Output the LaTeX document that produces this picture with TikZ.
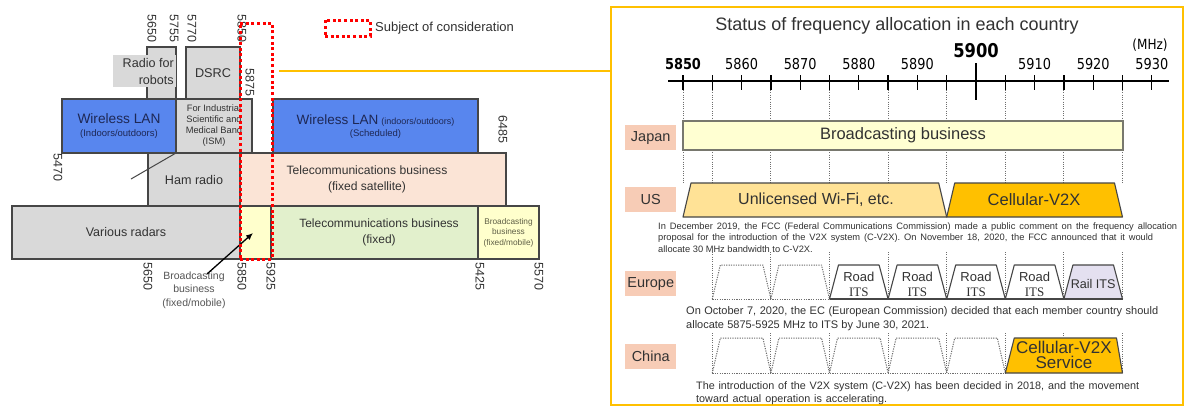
\documentclass[tikz,border=0pt]{standalone}
\usepackage{fontspec}
\setmainfont{Liberation Sans}
\newfontfamily\axisfont[FakeStretch=0.86]{DejaVu Sans}
\newfontfamily\itsserif{Liberation Serif}
\usetikzlibrary{arrows.meta}
\definecolor{edge}{RGB}{70,70,70}
\definecolor{txt}{RGB}{50,50,50}
\definecolor{navytxt}{RGB}{30,40,85}
\definecolor{wlan}{RGB}{88,134,238}
\definecolor{greybox}{RGB}{217,217,217}
\definecolor{peach}{RGB}{251,228,214}
\definecolor{lgreen}{RGB}{226,240,204}
\definecolor{lyellow}{RGB}{255,255,204}
\definecolor{gold}{RGB}{255,192,0}
\definecolor{jyellow}{RGB}{255,255,210}
\definecolor{ctry}{RGB}{247,204,182}
\definecolor{wifi}{RGB}{255,226,150}
\definecolor{rail}{RGB}{228,224,240}
\definecolor{dotgray}{RGB}{110,110,110}
\newcommand\setfs[2]{\fontsize{#1}{#2}\selectfont}
\newcommand\bandbox[7]{\node[#6,minimum width={(#4-#2)*1pt},minimum height={(#5-#3)*1pt},anchor=north west] (#1) at (#2,#3) {#7};}
\begin{document}
\begin{tikzpicture}[x=1pt,y=-1pt,
  declare function={fx(\f)=683+(\f-5850)*5.86;},
  band/.style={draw=edge,line width=1.1pt,inner sep=0pt,outer sep=0pt,align=center,text=txt},
  freqlab/.style={rotate=-90,anchor=west,inner sep=0pt,font=\setfs{12.5}{12.5},text=txt},
  reddot/.style={draw=red,line width=3pt,dash pattern=on 3pt off 2.6pt,inner sep=0pt,outer sep=0pt},
  axlab/.style={font=\axisfont\setfs{15}{15},text=black,inner sep=0pt},
  vdot/.style={draw=dotgray,line width=0.9pt,dash pattern=on 1pt off 1.3pt},
  ctrylab/.style={fill=ctry,minimum width=51pt,minimum height=25pt,anchor=north west,inner sep=0pt,font=\setfs{14.5}{14.5},text=txt},
  trap/.style={draw=edge,line width=1.1pt,line join=round},
  dtrap/.style={draw=dotgray,line width=1pt,dash pattern=on 1.2pt off 1.2pt},
  para/.style={anchor=west,inner sep=0pt,text=txt},
  its/.style={align=center,inner sep=0pt,text=txt,font=\setfs{13}{15}}
]
\useasboundingbox (0,0) rectangle (1186,408);
\fill[white] (0,0) rectangle (1186,408);

% ---------------- left band chart ----------------
\bandbox{robotsbox}{147}{47}{176}{99}{band,fill=greybox}{}
\node[fill=greybox,minimum width=63pt,minimum height=32pt,anchor=north west,inner sep=0pt] (robotsbg) at (113,55) {};
\node[anchor=east,align=right,inner sep=0pt,text=txt,font=\setfs{12.6}{17}] (robotstxt) at (174,71) {Radio for\\robots};
\bandbox{dsrc}{186}{47}{240}{99}{band,fill=greybox,font=\setfs{12.7}{14}}{DSRC}
\bandbox{wlanL}{62}{99}{176}{153}{band,fill=wlan,text=navytxt}{{\setfs{13.7}{15}Wireless LAN}\\[1pt]{\setfs{9.5}{11}(Indoors/outdoors)}}
\bandbox{ism}{176}{99}{252}{153}{band,fill=greybox,font=\setfs{9.3}{11}}{For Industrial\\Scientific and\\Medical Band\\(ISM)}
\bandbox{wlanR}{273}{99}{478}{154}{band,fill=wlan,text=navytxt}{{\setfs{13.5}{15}Wireless LAN} {\setfs{9}{11}(indoors/outdoors)}\\{\setfs{9.5}{11}(Scheduled)}}
\bandbox{ham}{148}{153}{240}{206}{band,fill=greybox,font=\setfs{12.6}{14}}{Ham radio}
\bandbox{telsat}{240}{153}{506}{206}{band,fill=peach,font=\setfs{12.1}{16}}{\hspace*{-12pt}Telecommunications business\\\hspace*{-12pt}(fixed satellite)}
\bandbox{radars}{12}{206}{240}{259}{band,fill=greybox,font=\setfs{12.5}{14}}{Various radars}
\bandbox{bcsmall}{240}{206}{271}{259}{band,fill=lyellow}{}
\bandbox{telfix}{271}{206}{478}{259}{band,fill=lgreen,font=\setfs{12}{16}}{\hspace*{9pt}Telecommunications business\\\hspace*{9pt}(fixed)}
\bandbox{bcright}{478}{206}{539}{259}{band,fill=lyellow,font=\setfs{8.3}{10.5},text={rgb,255:red,95;green,95;blue,70}}{Broadcasting\\business\\(fixed/mobile)}

% frequency numbers
\node[freqlab] (n5650t) at (152,14) {5650};
\node[freqlab] (n5755t) at (174,14) {5755};
\node[freqlab] (n5770t) at (192,14) {5770};
\node[freqlab] (n5850t) at (242,14) {5850};
\node[freqlab] (n5875t) at (250,68) {5875};
\node[freqlab] (n6485) at (503,115) {6485};
\node[freqlab] (n5470) at (58,153) {5470};
\node[freqlab] (n5650b) at (148,262) {5650};
\node[freqlab] (n5850b) at (242,262) {5850};
\node[freqlab] (n5925b) at (271,262) {5925};
\node[freqlab] (n5425b) at (480,262) {5425};
\node[freqlab] (n5570b) at (539,262) {5570};

% leader line and arrow
\coordinate (leadEnd) at (131,179);
\draw[edge,line width=1pt] (ism.south west) -- (leadEnd);
\node[align=center,inner sep=0pt,text={rgb,255:red,85;green,85;blue,85},font=\setfs{10.5}{13.5}] (bclabel) at (194,290) {Broadcasting\\business\\(fixed/mobile)};
\coordinate (arrTail) at (207,274);
\coordinate (arrHead) at (253,233);
\draw[black,line width=1.3pt,-{Latex[length=7pt,width=6pt]}] (arrTail) -- (arrHead);

% subject of consideration
\node[reddot,minimum width=32pt,minimum height=236pt,anchor=north west] (subject) at (240,23) {};
\node[reddot,minimum width=45pt,minimum height=16pt,anchor=north west] (legendbox) at (325,20) {};
\node[anchor=west,inner sep=0pt,text=txt,font=\setfs{13}{15}] (legendtxt) at (375,28) {Subject of consideration};

% ---------------- right panel ----------------
\node[draw=gold,line width=2.5pt,minimum width=572pt,minimum height=398pt,anchor=north west,inner sep=0pt,outer sep=0pt] (panel) at (611,7) {};
\coordinate (linkStart) at (279,71);
\draw[gold,line width=2pt] (linkStart) -- (panel.west |- linkStart);

\node[inner sep=0pt,text=txt,font=\setfs{18}{20}] (title) at (897,26) {Status of frequency allocation in each country};

% axis
\coordinate (axL) at (668,81);
\coordinate (axR) at (1169,81);
\draw[black,line width=2pt] (axL) -- (axR);
\foreach \q in {5850,5855,...,5930} \draw[black,line width=1.3pt] ({fx(\q)},75) -- ({fx(\q)},90);
\draw[black,line width=1.3pt] ({fx(5900)},63) -- ({fx(5900)},100);
\foreach \q in {5860,5870,5880,5890,5910,5920,5930} \node[axlab] (tl\q) at ({fx(\q)},64) {\q};
\node[axlab,font=\axisfont\bfseries\setfs{15}{15}] (tl5850) at ({fx(5850)},64) {5850};
\node[axlab,font=\axisfont\bfseries\setfs{19}{19}] (tl5900) at ({fx(5900)},51) {5900};
\node[axlab,font=\axisfont\setfs{14}{14}] (mhz) at (1150,45) {(MHz)};

% dotted guide lines
\foreach \q in {5850,5855,5865,5875,5885,5895,5905,5915,5925}{
  \draw[vdot] ({fx(\q)},90) -- ({fx(\q)},121);
  \draw[vdot] ({fx(\q)},150) -- ({fx(\q)},183);
}
\foreach \q in {5855,5865,...,5925}{
  \draw[vdot] ({fx(\q)},252) -- ({fx(\q)},299);
  \draw[vdot] ({fx(\q)},333) -- ({fx(\q)},373);
}

% Japan
\node[ctrylab] (lblJapan) at (625,125) {Japan};
\bandbox{japan}{683}{121}{1123}{150}{band,draw={rgb,255:red,120;green,120;blue,110},fill=jyellow,font=\setfs{16.5}{18}}{Broadcasting business}

% US
\node[ctrylab] (lblUS) at (625,187) {US};
\draw[trap,fill=wifi] ({fx(5850)},217) -- ({fx(5850)+8},183) -- ({fx(5895)-8},183) -- ({fx(5895)},217) -- cycle;
\draw[trap,fill=gold] ({fx(5895)},217) -- ({fx(5895)+8},183) -- ({fx(5925)-8},183) -- ({fx(5925)},217) -- cycle;
\node[inner sep=0pt,text=txt,font=\setfs{16}{18}] (wifitxt) at (816,200) {Unlicensed Wi-Fi, etc.};
\node[inner sep=0pt,text=txt,font=\setfs{16.5}{18}] (cv2xtxt) at (1034,200) {Cellular-V2X};
\node[para,font=\setfs{9.3}{11}] (us1) at (658,227) {\makebox[519pt][s]{In December 2019, the FCC (Federal Communications Commission) made a public comment on the frequency allocation}};
\node[para,font=\setfs{9.3}{11}] (us2) at (658,238) {\makebox[495pt][s]{proposal for the introduction of the V2X system (C-V2X). On November 18, 2020, the FCC announced that it would}};
\node[para,font=\setfs{9.3}{11}] (us3) at (658,249) {allocate 30 MHz bandwidth to C-V2X.};

% Europe
\node[ctrylab] (lblEurope) at (625,271) {Europe};
\foreach \a/\b in {5855/5865,5865/5875}
  \draw[dtrap] ({fx(\a)},299) -- ({fx(\a)+8},265) -- ({fx(\b)-8},265) -- ({fx(\b)},299);
\draw[dtrap] ({fx(5855)},299) -- ({fx(5875)},299);
\foreach \a/\b in {5875/5885,5885/5895,5895/5905,5905/5915}{
  \draw[trap,fill=white] ({fx(\a)},299) -- ({fx(\a)+9},265) -- ({fx(\b)-9},265) -- ({fx(\b)},299) -- cycle;
  \node[its] (road\a) at ({(fx(\a)+fx(\b))/2},284.5) {Road\\{\itsserif ITS}};
}
\draw[trap,fill=rail] ({fx(5915)},299) -- ({fx(5915)+9},265) -- ({fx(5925)-9},265) -- ({fx(5925)},299) -- cycle;
\node[its,font=\setfs{12.6}{14}] (railits) at ({fx(5920)},284) {Rail ITS};
\draw[edge,line width=1.8pt] ({fx(5875)},299) -- ({fx(5925)},299);
\node[para,font=\setfs{11}{13}] (eu1) at (686,312) {\makebox[472pt][s]{On October 7, 2020, the EC (European Commission) decided that each member country should}};
\node[para,font=\setfs{11}{13}] (eu2) at (686,326) {\makebox[243pt][s]{allocate 5875-5925 MHz to ITS by June 30, 2021.}};

% China
\node[ctrylab] (lblChina) at (625,344) {China};
\foreach \a/\b in {5855/5865,5865/5875,5875/5885,5885/5895,5895/5905}
  \draw[dtrap] ({fx(\a)},373) -- ({fx(\a)+8},338) -- ({fx(\b)-8},338) -- ({fx(\b)},373);
\draw[dtrap] ({fx(5855)},373) -- ({fx(5905)},373);
\draw[trap,fill=gold] ({fx(5905)},373) -- ({fx(5905)+9},338) -- ({fx(5925)-6},338) -- ({fx(5925)},373) -- cycle;
\node[align=center,inner sep=0pt,text=txt,font=\setfs{17}{15}] (cv2xsvc) at ({(fx(5905)+fx(5925))/2},355) {Cellular-V2X\\Service};
\node[para,font=\setfs{10.8}{13}] (cn1) at (696,387) {\makebox[443pt][s]{The introduction of the V2X system (C-V2X) has been decided in 2018, and the movement}};
\node[para,font=\setfs{10.8}{13}] (cn2) at (696,400) {\makebox[191pt][s]{toward actual operation is accelerating.}};
\end{tikzpicture}
\end{document}
